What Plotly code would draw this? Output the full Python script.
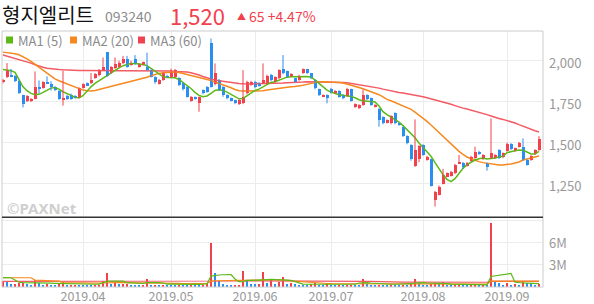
import plotly.graph_objects as go

# ---------------- data ----------------
trading_days = {
    3: [4, 5, 6, 7, 8, 11, 12, 13, 14, 15, 18, 19, 20, 21, 22, 25, 26, 27, 28, 29],
    4: [1, 2, 3, 4, 5, 8, 9, 10, 11, 12, 15, 16, 17, 18, 19, 22, 23, 24, 25, 26, 29, 30],
    5: [2, 3, 7, 8, 9, 10, 13, 14, 15, 16, 17, 20, 21, 22, 23, 24, 27, 28, 29, 30, 31],
    6: [3, 4, 5, 7, 10, 11, 12, 13, 14, 17, 18, 19, 20, 21, 24, 25, 26, 27, 28],
    7: [1, 2, 3, 4, 5, 8, 9, 10, 11, 12, 15, 16, 17, 18, 19, 22, 23, 24, 25, 26, 29, 30, 31],
    8: [1, 2, 5, 6, 7, 8, 9, 12, 13, 14, 16, 19, 20, 21, 22, 23, 26, 27, 28, 29, 30],
    9: [2, 3, 4, 5, 6, 9, 10, 11, 16],
}
dates = [f"2019-{m:02d}-{d:02d}" for m, days in trading_days.items() for d in days]

open_ = [1870,1898,1915,1905,1874,1789,1752,1752,1768,1843,
         1833,1870,1860,1838,1817,1760,1785,1793,1785,1772,
         1835,1862,1862,1895,1915,1943,2053,1925,1955,1963,
         1984,2012,1975,2008,1963,1975,1963,1943,1902,1860,
         1882,1910,1902,1902,1893,1862,1841,1756,1778,1740,
         1821,1841,2106,1858,1882,1841,1790,1770,1760,1736,
         1740,1801,1852,1872,1866,1862,1862,1915,1872,1892,
         1947,1935,1905,1892,1882,1923,1947,1923,1882,1825,
         1780,1791,1829,1805,1815,1791,1785,1825,1719,1709,
         1730,1791,1770,1719,1707,1654,1622,1618,1679,1618,
         1593,1541,1486,1356,1400,1486,1394,1398,1150,1181,
         1248,1293,1297,1313,1374,1378,1358,1390,1404,1445,
         1398,1374,1404,1404,1455,1410,1451,1492,1451,1475,
         1475,1394,1394,1431,1455]
high = [1890,1986,1950,1912,1880,1792,1790,1772,1935,1880,
        1875,1905,1875,1845,1820,1939,1792,1800,1790,1838,
        1862,1868,1925,1925,1950,2020,2053,1968,2020,2000,
        2030,2030,2000,2035,1985,1995,2050,1948,1905,1890,
        1928,1915,1952,1950,1900,1868,1845,1785,1782,1782,
        1825,1845,2136,1984,1890,1845,1795,1775,1762,1765,
        1943,1878,1878,1878,1870,1984,1915,1920,1905,1948,
        2035,1940,1925,1895,1915,1953,1950,1925,1885,1830,
        1795,1795,1835,1822,1820,1795,1835,1830,1740,1735,
        1825,1795,1775,1735,1710,1660,1642,1668,1685,1622,
        1598,1545,1490,1642,1485,1490,1420,1402,1205,1238,
        1340,1318,1328,1370,1425,1382,1382,1420,1475,1450,
        1430,1378,1648,1430,1460,1440,1500,1497,1470,1505,
        1526,1398,1424,1460,1540]
low = [1862,1895,1900,1870,1798,1715,1748,1748,1765,1800,
       1830,1858,1818,1815,1762,1726,1760,1762,1770,1770,
       1830,1845,1858,1890,1905,1940,1900,1920,1950,1958,
       1980,1958,1970,1975,1958,1970,1940,1898,1860,1855,
       1878,1895,1895,1898,1845,1818,1775,1750,1762,1689,
       1795,1805,1836,1850,1815,1780,1765,1752,1735,1730,
       1735,1795,1848,1832,1842,1858,1855,1875,1868,1888,
       1918,1898,1900,1868,1878,1920,1920,1888,1825,1785,
       1778,1740,1800,1800,1775,1765,1780,1750,1712,1705,
       1725,1760,1725,1715,1597,1612,1618,1612,1612,1603,
       1535,1490,1390,1352,1380,1420,1390,1232,1110,1178,
       1245,1290,1293,1308,1370,1340,1354,1385,1400,1425,
       1394,1329,1400,1400,1400,1405,1445,1455,1445,1470,
       1390,1360,1390,1426,1450]
close = [1884,1935,1905,1874,1803,1738,1783,1768,1843,1833,
         1870,1862,1838,1820,1766,1775,1768,1768,1775,1833,
         1858,1852,1882,1920,1935,1963,1905,1963,1980,1988,
         2008,1963,1988,1980,1980,1990,1943,1902,1868,1880,
         1923,1900,1923,1943,1852,1825,1780,1780,1768,1778,
         1801,1809,1841,1923,1821,1790,1770,1756,1740,1760,
         1778,1872,1872,1838,1848,1882,1908,1880,1902,1943,
         1923,1902,1920,1872,1910,1947,1927,1892,1831,1791,
         1791,1770,1805,1817,1780,1770,1825,1756,1736,1730,
         1791,1764,1730,1730,1638,1618,1638,1663,1618,1608,
         1541,1496,1398,1455,1480,1425,1415,1236,1199,1232,
         1303,1313,1323,1364,1384,1349,1378,1415,1445,1431,
         1425,1354,1435,1425,1404,1435,1492,1459,1465,1500,
         1394,1364,1419,1455,1520]

ma5 = [1947,1945,1939,1929,1882,1841,1817,1801,1793,1795,
       1807,1821,1833,1837,1827,1811,1801,1789,1776,1774,
       1787,1815,1841,1862,1878,1896,1911,1927,1943,1957,
       1970,1978,1984,1984,1982,1978,1970,1953,1933,1917,
       1904,1898,1898,1896,1886,1868,1852,1831,1807,1789,
       1780,1785,1801,1819,1823,1819,1809,1795,1778,1768,
       1770,1785,1805,1819,1827,1841,1858,1868,1872,1880,
       1892,1900,1902,1902,1902,1906,1904,1900,1884,1862,
       1839,1821,1809,1799,1793,1789,1787,1782,1774,1762,
       1756,1754,1752,1748,1724,1689,1671,1656,1644,1626,
       1604,1579,1555,1530,1498,1471,1443,1417,1378,1339,
       1305,1276,1262,1280,1313,1343,1366,1382,1394,1402,
       1406,1400,1402,1406,1412,1417,1439,1447,1451,1455,
       1453,1443,1431,1431,1447]
ma20 = [2053,2051,2047,2043,2037,2026,2012,1996,1980,1961,
        1943,1925,1906,1890,1878,1868,1858,1850,1839,1829,
        1821,1817,1815,1819,1825,1831,1837,1843,1850,1856,
        1862,1868,1874,1880,1886,1892,1900,1909,1917,1923,
        1927,1929,1931,1931,1929,1923,1917,1911,1904,1898,
        1892,1886,1880,1870,1862,1854,1843,1835,1825,1817,
        1815,1815,1815,1815,1815,1817,1821,1825,1829,1831,
        1835,1837,1841,1843,1845,1850,1856,1862,1868,1872,
        1872,1872,1872,1870,1868,1864,1858,1852,1845,1837,
        1829,1821,1813,1803,1793,1780,1764,1756,1746,1736,
        1724,1715,1703,1687,1669,1652,1630,1608,1585,1563,
        1539,1514,1490,1465,1447,1429,1412,1402,1392,1384,
        1378,1374,1370,1366,1364,1364,1366,1370,1376,1382,
        1394,1400,1406,1412,1419]
ma60 = [2035,2028,2022,2016,2010,2002,1994,1986,1976,1967,
        1961,1955,1951,1949,1947,1945,1943,1941,1941,1941,
        1941,1941,1941,1941,1941,1941,1941,1941,1941,1941,
        1941,1941,1941,1941,1941,1941,1939,1939,1939,1939,
        1937,1937,1937,1935,1935,1933,1931,1927,1921,1913,
        1904,1896,1888,1882,1878,1874,1870,1866,1864,1862,
        1860,1858,1858,1860,1860,1862,1862,1862,1864,1864,
        1864,1866,1866,1868,1868,1870,1872,1872,1872,1872,
        1872,1872,1872,1870,1870,1868,1866,1862,1860,1856,
        1852,1848,1843,1839,1833,1827,1821,1815,1811,1807,
        1803,1799,1795,1789,1785,1780,1774,1768,1762,1756,
        1750,1742,1734,1726,1717,1711,1705,1699,1693,1687,
        1679,1671,1663,1654,1648,1642,1636,1628,1620,1610,
        1600,1589,1581,1573,1565]

# volume in millions of shares
volume = [0.86,0.64,0.32,0.33,0.50,0.52,0.36,0.18,0.95,0.45,
          0.20,0.32,0.18,0.17,0.32,0.64,0.18,0.19,0.27,0.18,
          0.17,0.14,0.13,0.25,0.28,0.85,1.92,0.36,0.58,0.32,
          0.36,0.38,0.27,0.26,0.25,0.28,1.12,0.18,0.20,0.18,
          0.19,0.15,0.14,0.13,0.14,0.13,0.12,0.14,0.13,0.12,
          0.15,0.50,5.96,1.93,0.86,0.36,0.28,0.20,0.24,0.30,
          2.20,0.86,0.40,0.32,0.34,2.06,0.55,1.00,0.32,0.72,
          1.40,0.36,0.58,0.32,0.30,0.18,0.16,0.40,0.45,0.20,
          0.15,0.35,0.20,0.18,0.22,0.17,0.20,0.25,0.15,0.14,
          1.10,0.35,0.30,0.18,0.30,0.28,0.20,0.25,0.22,0.18,
          0.28,0.25,0.48,1.00,0.55,0.30,0.22,0.40,0.55,0.32,
          0.60,0.30,0.22,0.25,0.30,0.22,0.18,0.20,0.24,0.15,
          0.18,0.15,8.70,0.60,0.45,0.30,0.50,0.30,0.35,0.30,
          0.80,0.45,0.35,0.28,0.40]
vol_ma5 = [1.20,1.20,1.17,0.85,0.55,0.50,0.50,0.48,0.50,0.52,
           0.50,0.45,0.42,0.40,0.38,0.40,0.40,0.38,0.35,0.35,
           0.30,0.30,0.28,0.28,0.30,0.45,0.68,0.70,0.72,0.72,
           0.70,0.50,0.45,0.40,0.38,0.38,0.50,0.52,0.52,0.52,
           0.45,0.30,0.30,0.28,0.28,0.26,0.26,0.26,0.26,0.26,
           0.28,0.35,1.40,1.50,1.55,1.58,1.60,1.60,1.00,0.63,
           0.62,0.80,0.80,0.80,0.85,0.90,0.90,0.95,0.95,0.90,
           0.90,0.85,0.80,0.60,0.45,0.30,0.28,0.28,0.28,0.28,
           0.28,0.28,0.28,0.28,0.28,0.28,0.28,0.28,0.28,0.45,
           0.50,0.50,0.45,0.40,0.35,0.30,0.28,0.28,0.28,0.28,
           0.28,0.30,0.35,0.45,0.50,0.50,0.45,0.45,0.45,0.42,
           0.40,0.35,0.30,0.28,0.26,0.24,0.22,0.22,0.20,0.20,
           0.20,0.20,1.35,1.45,1.55,1.60,1.70,1.75,0.55,0.45,
           0.45,0.42,0.40,0.38,0.36]
vol_ma20 = [1.17,1.17,1.17,1.17,1.17,1.17,1.17,1.17,0.85,0.82,
            0.80,0.80,0.78,0.75,0.70,0.50,0.48,0.46,0.45,0.44,
            0.43,0.42,0.42,0.42,0.42,0.45,0.50,0.50,0.50,0.50,
            0.50,0.50,0.50,0.48,0.48,0.48,0.50,0.50,0.50,0.48,
            0.46,0.45,0.44,0.42,0.40,0.38,0.36,0.36,0.36,0.36,
            0.36,0.38,0.70,0.76,0.78,0.78,0.78,0.78,0.78,0.78,
            0.85,0.85,0.85,0.85,0.85,0.90,0.90,0.90,0.90,0.88,
            0.88,0.85,0.78,0.70,0.65,0.60,0.55,0.50,0.45,0.42,
            0.40,0.38,0.36,0.36,0.36,0.36,0.36,0.36,0.36,0.38,
            0.38,0.38,0.38,0.38,0.38,0.38,0.36,0.36,0.36,0.36,
            0.36,0.36,0.36,0.38,0.38,0.38,0.38,0.38,0.38,0.38,
            0.38,0.36,0.36,0.34,0.34,0.32,0.32,0.30,0.30,0.30,
            0.30,0.30,0.70,0.70,0.70,0.70,0.70,0.70,0.70,0.70,
            0.70,0.70,0.70,0.70,0.70]
vol_ma60 = [0.67,0.67,0.67,0.67,0.67,0.67,0.67,0.67,0.67,0.67,
            0.67,0.67,0.67,0.67,0.67,0.67,0.67,0.67,0.67,0.67,
            0.66,0.66,0.66,0.66,0.66,0.66,0.66,0.66,0.66,0.66,
            0.64,0.64,0.64,0.64,0.64,0.64,0.64,0.64,0.64,0.64,
            0.63,0.63,0.63,0.63,0.63,0.63,0.63,0.63,0.63,0.63,
            0.63,0.63,0.72,0.72,0.72,0.72,0.72,0.72,0.72,0.72,
            0.75,0.75,0.75,0.75,0.75,0.78,0.78,0.78,0.78,0.78,
            0.78,0.78,0.78,0.78,0.78,0.75,0.75,0.75,0.75,0.75,
            0.72,0.72,0.72,0.72,0.72,0.72,0.72,0.72,0.72,0.72,
            0.70,0.68,0.66,0.64,0.62,0.60,0.60,0.60,0.60,0.60,
            0.58,0.58,0.58,0.58,0.58,0.58,0.58,0.58,0.58,0.58,
            0.56,0.56,0.56,0.56,0.56,0.55,0.55,0.55,0.55,0.55,
            0.55,0.55,0.66,0.66,0.66,0.66,0.66,0.66,0.66,0.66,
            0.66,0.66,0.66,0.66,0.66]

price_ticks = [1250, 1500, 1750, 2000]
price_tick_text = ["1,250", "1,500", "1,750", "2,000"]
vol_ticks = [3, 6, 9]
vol_tick_text = ["3M", "6M", ""]

stock_name = "형지엘리트"
stock_code = "093240"
last_price = "1,520"
change_text = "65 +4.47%"
legend_items = [("MA1 (5)", "#5cb916"), ("MA2 (20)", "#f5891f"), ("MA3 (60)", "#f0424f")]

# ---------------- style ----------------
UP = "#f2404d"
DOWN = "#2b8ef0"
C_MA5, C_MA20, C_MA60 = "#5cb916", "#f5891f", "#f25a64"
GRID = "#ececec"
TXT = "#999999"
FONT = "Noto Sans CJK KR, Noto Sans, sans-serif"

W, H = 594, 304
L, R, T, B = 2, 51, 31, 17
PW, PH = W - L - R, H - T - B


def px(x):
    return (x - L) / PW


def py(y):
    return (H - B - y) / PH


up_idx = [i for i in range(len(dates)) if close[i] >= open_[i]]
dn_idx = [i for i in range(len(dates)) if close[i] < open_[i]]

fig = go.Figure()


def wick_trace(idx, color):
    xs, ys = [], []
    for i in idx:
        xs += [dates[i], dates[i], None]
        ys += [low[i], high[i], None]
    return go.Scatter(x=xs, y=ys, mode="lines", line=dict(color=color, width=1),
                      hoverinfo="skip", showlegend=False, xaxis="x", yaxis="y")


def body_trace(idx, color):
    return go.Bar(x=[dates[i] for i in idx],
                  y=[abs(close[i] - open_[i]) for i in idx],
                  base=[min(open_[i], close[i]) for i in idx],
                  marker=dict(color=color, line=dict(width=0)), width=0.75,
                  showlegend=False, xaxis="x", yaxis="y")


fig.add_trace(go.Scatter(x=dates, y=ma60, mode="lines", line=dict(color=C_MA60, width=1.5),
                         showlegend=False, xaxis="x", yaxis="y"))
fig.add_trace(go.Scatter(x=dates, y=ma20, mode="lines", line=dict(color=C_MA20, width=1.5),
                         showlegend=False, xaxis="x", yaxis="y"))
fig.add_trace(go.Scatter(x=dates, y=ma5, mode="lines", line=dict(color=C_MA5, width=1.5),
                         showlegend=False, xaxis="x", yaxis="y"))
fig.add_trace(wick_trace(up_idx, UP))
fig.add_trace(wick_trace(dn_idx, DOWN))
fig.add_trace(body_trace(up_idx, UP))
fig.add_trace(body_trace(dn_idx, DOWN))

vol_colors = [UP if (i == 0 or volume[i] >= volume[i - 1]) else DOWN for i in range(len(volume))]
fig.add_trace(go.Bar(x=dates, y=volume, marker=dict(color=vol_colors, line=dict(width=0)),
                     width=0.7, showlegend=False, xaxis="x2", yaxis="y2"))
fig.add_trace(go.Scatter(x=dates, y=vol_ma60, mode="lines", line=dict(color=C_MA60, width=1.2),
                         showlegend=False, xaxis="x2", yaxis="y2"))
fig.add_trace(go.Scatter(x=dates, y=vol_ma20, mode="lines", line=dict(color=C_MA20, width=1.2),
                         showlegend=False, xaxis="x2", yaxis="y2"))
fig.add_trace(go.Scatter(x=dates, y=vol_ma5, mode="lines", line=dict(color=C_MA5, width=1.2),
                         showlegend=False, xaxis="x2", yaxis="y2"))

# month ticks
month_first = []
seen = set()
for d in dates:
    m = d[:7]
    if m not in seen:
        seen.add(m)
        month_first.append(d)
month_ticks = month_first[1:]
month_text = [d[:7].replace("-", ".") for d in month_ticks]

xr = [-0.25, len(dates) - 1 + 1.0]
axis_common = dict(type="category", range=xr, tickvals=month_ticks, ticktext=month_text,
                   showgrid=True, gridcolor=GRID, gridwidth=1, zeroline=False,
                   showline=False, ticks="", fixedrange=True, automargin=False)

fig.update_layout(
    width=W, height=H,
    margin=dict(l=L, r=R, t=T, b=B, pad=0, autoexpand=False),
    paper_bgcolor="white", plot_bgcolor="white",
    barmode="overlay", bargap=0,
    showlegend=False,
    font=dict(family=FONT, color=TXT, size=13),
    xaxis=dict(domain=[0, 1], anchor="y", showticklabels=False, **axis_common),
    xaxis2=dict(domain=[0, 1], anchor="y2", matches="x", showticklabels=True,
                tickfont=dict(size=12.5, color=TXT), ticklabelstandoff=0, **axis_common),
    yaxis=dict(domain=[py(217.3), 1], range=[1044, 2182], side="right",
               tickvals=price_ticks, ticktext=price_tick_text, showgrid=True, gridcolor=GRID,
               zeroline=False, ticks="", tickfont=dict(size=13, color=TXT),
               ticklabelstandoff=5, ticklabelshift=3, fixedrange=True, automargin=False),
    yaxis2=dict(domain=[0, py(218.5)], range=[-0.1, 9.3], side="right",
                tickvals=vol_ticks, ticktext=vol_tick_text, showgrid=True, gridcolor=GRID,
                zeroline=False, ticks="", tickfont=dict(size=13, color=TXT),
                ticklabelstandoff=5, ticklabelshift=1, fixedrange=True, automargin=False),
)

shapes = [
    dict(type="rect", xref="paper", yref="paper", x0=0, x1=1, y0=0, y1=1,
         line=dict(color="#cccccc", width=1), layer="above"),
    dict(type="line", xref="paper", yref="paper", x0=0, x1=1, y0=py(217.3), y1=py(217.3),
         line=dict(color="#333333", width=1.5), layer="above"),
]
annotations = [
    dict(text=stock_name, x=px(0), y=py(14), xanchor="left", yanchor="middle",
         font=dict(size=20, color="#111111", family=FONT)),
    dict(text=stock_code, x=px(103), y=py(16), xanchor="left", yanchor="middle",
         font=dict(size=14, color="#8c8c8c", family=FONT)),
    dict(text=last_price, x=px(168), y=py(15), xanchor="left", yanchor="middle",
         font=dict(size=22, color=UP, family=FONT)),
    dict(text="▲", x=px(235), y=py(16), xanchor="left", yanchor="middle",
         font=dict(size=9, color=UP, family=FONT)),
    dict(text=change_text, x=px(247), y=py(16), xanchor="left", yanchor="middle",
         font=dict(size=14, color=UP, family=FONT)),
    dict(text="<b>©PAXNet</b>", x=px(5), y=py(208), xanchor="left", yanchor="middle",
         font=dict(size=15, color="#cfcfcf", family="Noto Sans, sans-serif")),
]
legend_x = [6, 70, 138]
for (label, col), lx in zip(legend_items, legend_x):
    shapes.append(dict(type="rect", xref="paper", yref="paper",
                       x0=px(lx), x1=px(lx + 7), y0=py(43.5), y1=py(36.5),
                       fillcolor=col, line=dict(width=0), layer="above"))
    annotations.append(dict(text=label, x=px(lx + 10), y=py(40), xanchor="left", yanchor="middle",
                            font=dict(size=13, color="#8a8a8a", family=FONT)))
for a in annotations:
    a.update(xref="paper", yref="paper", showarrow=False)
fig.update_layout(shapes=shapes, annotations=annotations)

fig.write_html("out.html")
